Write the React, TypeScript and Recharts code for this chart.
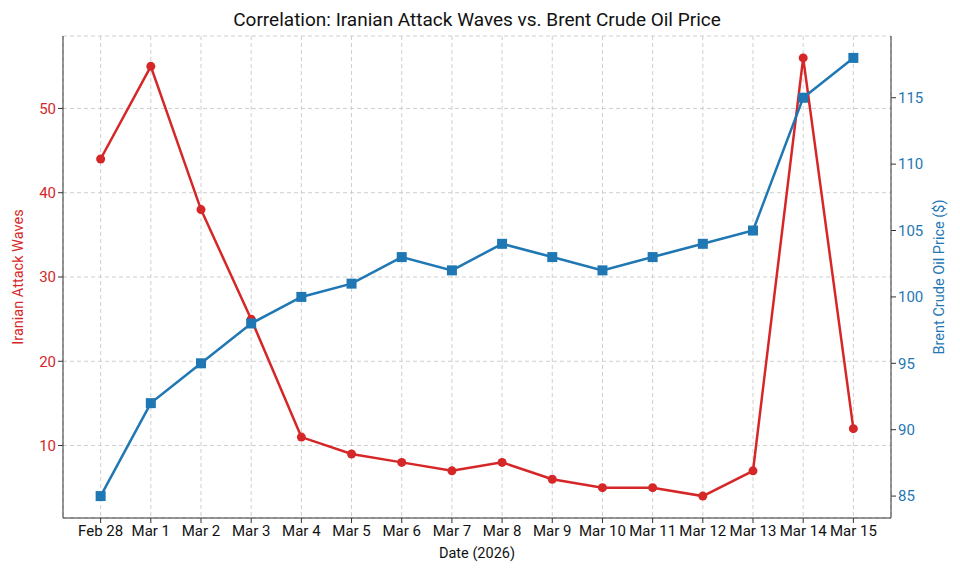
import { LineChart, Line, XAxis, YAxis, CartesianGrid, Label } from "recharts";

const dates = ["Feb 28", "Mar 1", "Mar 2", "Mar 3", "Mar 4", "Mar 5", "Mar 6", "Mar 7", "Mar 8", "Mar 9", "Mar 10", "Mar 11", "Mar 12", "Mar 13", "Mar 14", "Mar 15"];
const attackWaves = [44, 55, 38, 25, 11, 9, 8, 7, 8, 6, 5, 5, 4, 7, 56, 12];
const brentPrice = [85, 92, 95, 98, 100, 101, 103, 102, 104, 103, 102, 103, 104, 105, 115, 118];
const leftTicks = [10, 20, 30, 40, 50];
const rightTicks = [85, 90, 95, 100, 105, 110, 115];

const RED = "#d62728";
const BLUE = "#1f77b4";
const FONT = "Roboto, 'Open Sans', sans-serif";

const data = dates.map((d, i) => ({ i, date: d, attacks: attackWaves[i], brent: brentPrice[i] }));

const SquareDot = (props: any) => {
    const { cx, cy, index } = props;
    if (cx == null || cy == null) return null;
    return <rect key={"sq" + index} x={cx - 5} y={cy - 5} width={10} height={10} fill={BLUE} />;
};

export default function App() {
    return (
        <div style={{ position: "absolute", left: 0, top: 0, width: 960, height: 576, background: "#fff", fontFamily: FONT }}>
            <div style={{ position: "absolute", top: 8, width: 954, textAlign: "center", fontSize: 19, color: "#111" }}>
                Correlation: Iranian Attack Waves vs. Brent Crude Oil Price
            </div>
            <LineChart width={960} height={576} data={data} margin={{ top: 36, right: 0, bottom: 0, left: 0 }}>
                <CartesianGrid yAxisId="left" strokeDasharray="4 3" stroke="#cfcfcf" />
                <XAxis
                    dataKey="i"
                    type="number"
                    domain={[-0.75, 15.75]}
                    ticks={dates.map((_, i) => i)}
                    interval={0}
                    tickFormatter={(v: number) => dates[v]}
                    height={58}
                    stroke="#333"
                    tickSize={5}
                    tick={{ fill: "#111", fontSize: 15, fontFamily: FONT }}
                >
                    <Label value="Date (2026)" position="insideBottom" offset={18} fill="#111" fontSize={14.5} fontFamily={FONT} />
                </XAxis>
                <XAxis xAxisId="top" orientation="top" dataKey="i" type="number" domain={[-0.75, 15.75]} height={0} tick={false} tickLine={false} stroke="#333" />
                <YAxis
                    yAxisId="left"
                    domain={[1.4, 58.6]}
                    ticks={leftTicks}
                    width={63}
                    stroke="#333"
                    tickSize={5}
                    tick={{ fill: RED, fontSize: 15, fontFamily: FONT }}
                >
                    <Label value="Iranian Attack Waves" angle={-90} position="insideLeft" offset={18} style={{ textAnchor: "middle" }} fill={RED} fontSize={14.5} fontFamily={FONT} />
                </YAxis>
                <YAxis
                    yAxisId="right"
                    orientation="right"
                    domain={[83.35, 119.65]}
                    ticks={rightTicks}
                    width={69}
                    stroke="#333"
                    tickSize={5}
                    tick={{ fill: BLUE, fontSize: 15, fontFamily: FONT }}
                >
                    <Label value="Brent Crude Oil Price ($)" angle={-90} position="insideRight" offset={21} style={{ textAnchor: "middle" }} fill={BLUE} fontSize={14.5} fontFamily={FONT} />
                </YAxis>
                <Line
                    yAxisId="left"
                    dataKey="attacks"
                    stroke={RED}
                    strokeWidth={2.5}
                    dot={{ r: 4.5, fill: RED, stroke: RED, strokeWidth: 0 }}
                    isAnimationActive={false}
                />
                <Line
                    yAxisId="right"
                    dataKey="brent"
                    stroke={BLUE}
                    strokeWidth={2.5}
                    dot={SquareDot}
                    isAnimationActive={false}
                />
            </LineChart>
        </div>
    );
}
